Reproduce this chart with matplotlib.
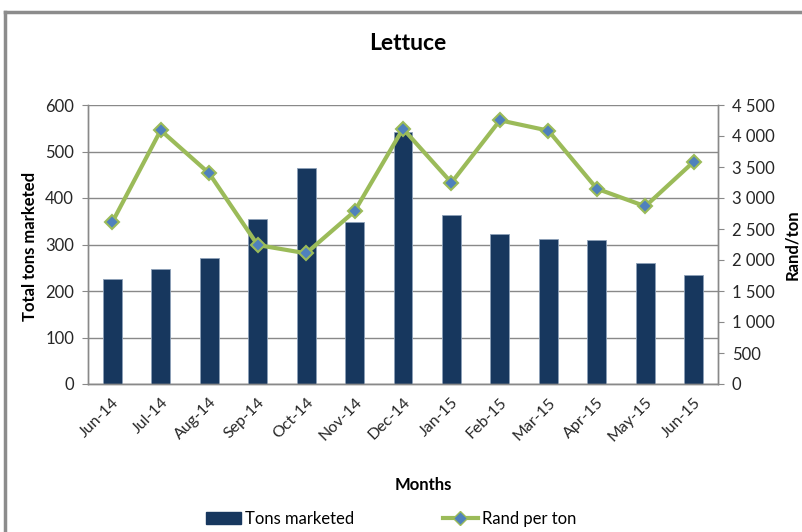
import matplotlib.pyplot as plt
import matplotlib.ticker as mticker
from matplotlib.lines import Line2D
from matplotlib.patches import Patch
import numpy as np

plt.rcParams['font.family'] = ['Lato', 'DejaVu Sans']

# data
months = ['Jun-14', 'Jul-14', 'Aug-14', 'Sep-14', 'Oct-14', 'Nov-14', 'Dec-14',
          'Jan-15', 'Feb-15', 'Mar-15', 'Apr-15', 'May-15', 'Jun-15']
tons = [225, 248, 272, 355, 464, 348, 541, 364, 323, 311, 309, 261, 234]
rand_per_ton = [2608, 4092, 3398, 2242, 2108, 2785, 4118, 3247, 4253, 4086, 3150, 2866, 3586]

bar_col = '#17375E'
line_col = '#9BBB59'
mk_col = '#4F81BD'
grid_col = '#898989'
txt_col = '#262626'

W, H = 803, 532
fig = plt.figure(figsize=(W / 100, H / 100), dpi=100)
ax = fig.add_axes([88 / W, 1 - 384 / H, (718 - 88) / W, (384 - 105) / H])
ax2 = ax.twinx()

x = np.arange(len(months))
ax.bar(x, tons, width=0.39, color=bar_col, edgecolor='#8DA0B8', linewidth=0.6, zorder=2)
ax.set_ylim(0, 600)
ax.set_xlim(-0.5, len(months) - 0.5)
ax.set_yticks(range(0, 601, 100))
ax.yaxis.grid(True, color=grid_col, linewidth=1)
ax.set_axisbelow(True)
ax.set_xticks(x)
ax.set_xticklabels(months, rotation=45, ha='right', rotation_mode='anchor', fontsize=11.5, color=txt_col)
ax.tick_params(axis='x', length=0, pad=8)
ax.tick_params(axis='y', length=4, color=grid_col, labelsize=12, colors=txt_col, pad=6)

ax2.plot(x, rand_per_ton, color=line_col, linewidth=3, marker='D', markersize=7,
         markerfacecolor=mk_col, markeredgecolor=line_col, markeredgewidth=1.5, zorder=3)
ax2.set_ylim(0, 4500)
ax2.set_yticks(range(0, 4501, 500))
ax2.yaxis.set_major_formatter(mticker.FuncFormatter(lambda v, p: f'{int(v):,}'.replace(',', ' ')))
ax2.tick_params(axis='y', length=4, color=grid_col, labelsize=12, colors=txt_col, pad=6)

for a in (ax, ax2):
    a.spines['top'].set_visible(False)
    for s in ('left', 'right', 'bottom'):
        a.spines[s].set_color(grid_col)
        a.spines[s].set_linewidth(1)

fig.text(408 / W, 1 - 43 / H, 'Lettuce', ha='center', va='center', fontsize=16.5, fontweight='bold', color='black')
fig.text(30 / W, 1 - 246 / H, 'Total tons marketed', ha='center', va='center', rotation=90,
         fontsize=12, fontweight='bold', color='black')
fig.text(792 / W, 1 - 245 / H, 'Rand/ton', ha='center', va='center', rotation=90,
         fontsize=12, fontweight='bold', color='black')
fig.text(423 / W, 1 - 485 / H, 'Months', ha='center', va='center', fontsize=12, fontweight='bold', color='black')

handles = [Patch(facecolor=bar_col, edgecolor=bar_col),
           Line2D([0], [0], color=line_col, linewidth=3, marker='D', markersize=7,
                  markerfacecolor=mk_col, markeredgecolor=line_col)]
fig.legend(handles, ['Tons marketed', 'Rand per ton'], loc='center', bbox_to_anchor=(391 / W, 1 - 519 / H),
           ncol=2, frameon=False, fontsize=12, columnspacing=5.3, handlelength=2.1,
           handletextpad=0.25, borderpad=0)

# outer chart frame (only top and left visible)
fig.add_artist(Line2D([5 / W, 1], [1 - 12 / H, 1 - 12 / H], color='#8C8C8C', linewidth=2.5))
fig.add_artist(Line2D([5 / W, 5 / W], [0, 1 - 12 / H], color='#8C8C8C', linewidth=2.5))

fig.savefig('out.png', dpi=100)
